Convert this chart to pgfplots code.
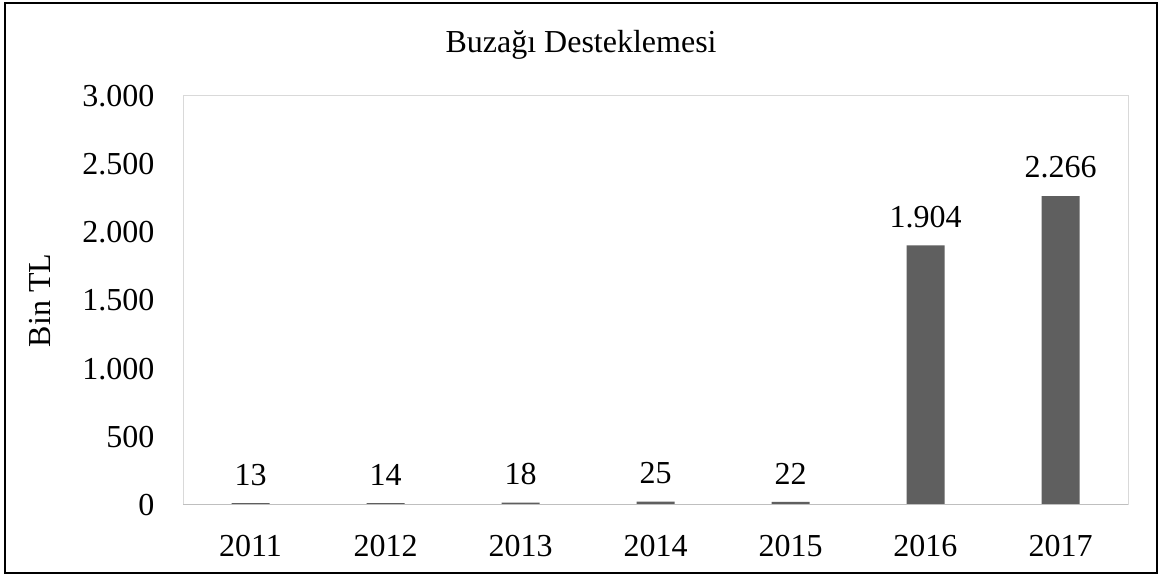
\documentclass[border=0pt,12pt]{standalone}
\usepackage{fontspec}
\setmainfont{Liberation Serif}
\usepackage{pgfplots}
\pgfplotsset{compat=1.18}
\definecolor{bargray}{HTML}{5F5F5F}
\definecolor{framegray}{HTML}{D9D9D9}
\definecolor{basegray}{HTML}{BFBFBF}
\begin{document}
\begin{tikzpicture}
\path[fill=white] (0pt,0pt) rectangle (435.75pt,216pt);
\draw[black, line width=0.75pt] (1.875pt,1.125pt) rectangle (433.875pt,214.875pt);
\node[font=\fontsize{12}{14}\selectfont] at (217.9pt,199.1pt) {Buzağı Desteklemesi};
\begin{axis}[
  at={(68.625pt,26.625pt)}, anchor=south west,
  scale only axis, width=354.375pt, height=153.375pt,
  xmin=-0.5, xmax=6.5, ymin=0, ymax=3000,
  enlargelimits=false,
  xtick={0,...,6},
  xticklabels={2011,2012,2013,2014,2015,2016,2017},
  ytick={0,500,...,3000},
  tick style={draw=none},
  axis line style={draw=framegray, line width=0.375pt},
  /pgf/number format/.cd, 1000 sep={.}, assume math mode=true, /pgfplots/.cd,
  tick label style={font=\fontsize{12}{14}\selectfont},
  yticklabel style={xshift=-6.5pt},
  xticklabel style={yshift=-3pt},
  ylabel={Bin TL},
  ylabel style={at={(axis description cs:-0.1513,0.5)}, anchor=center, font=\fontsize{12}{14}\selectfont},
  ybar, bar width=14.25pt, bar shift=0pt,
  nodes near coords,
  nodes near coords style={font=\fontsize{12}{14}\selectfont, yshift=2.5pt, black},
]
\addplot[fill=bargray, draw=none] coordinates {(0,13) (1,14) (2,18) (3,25) (4,22) (5,1904) (6,2266)};
\draw[basegray, line width=0.75pt] (axis cs:-0.5,0) -- (axis cs:6.5,0);
\end{axis}
\end{tikzpicture}
\end{document}
